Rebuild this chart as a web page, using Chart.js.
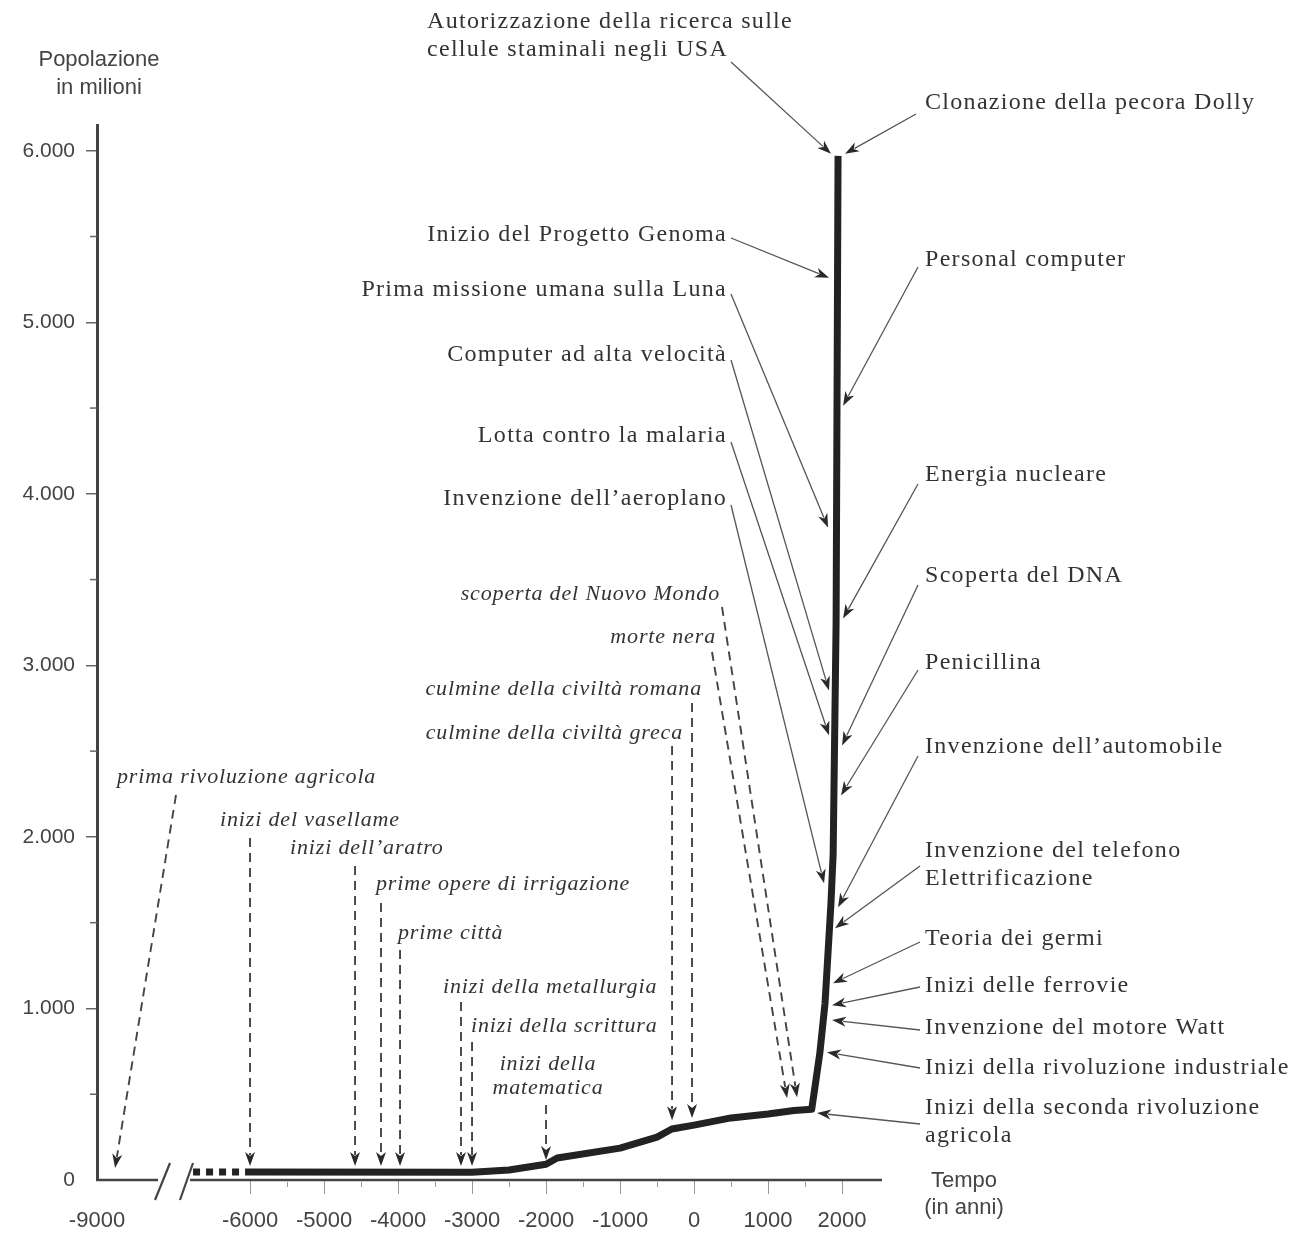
<!DOCTYPE html>
<html><head><meta charset="utf-8">
<script src="https://cdn.jsdelivr.net/npm/chart.js@4"></script>
<style>html,body{margin:0;padding:0;background:#fff}#wrap{width:1293px;height:1236px}</style>
</head><body><div id="wrap"><canvas id="c" width="1293" height="1236"></canvas></div>
<script>
// ---------- DATA ----------
const xTickYears = [-9000, -6000, -5000, -4000, -3000, -2000, -1000, 0, 1000, 2000];
const yTickValues = [0, 1000, 2000, 3000, 4000, 5000, 6000];
const curveYears = [-6000, -3000, -2500, -2000, -1850, -1000, -500, -300, 0, 500, 1000, 1350, 1590, 1640, 1700, 1770, 1810, 1850, 1880, 1920, 1946];
const curvePop   = [47, 45, 58, 92, 128, 186, 250, 297, 320, 362, 385, 405, 412, 560, 740, 1030, 1320, 1610, 1900, 3260, 5970];
const dottedYears = [-6770, -6000];
const dottedPop   = [47, 47];

const eventLabels = [
  "Autorizzazione della ricerca sulle\ncellule staminali negli USA",
  "Clonazione della pecora Dolly",
  "Inizio del Progetto Genoma",
  "Personal computer",
  "Prima missione umana sulla Luna",
  "Computer ad alta velocità",
  "Lotta contro la malaria",
  "Energia nucleare",
  "Invenzione dell’aeroplano",
  "Scoperta del DNA",
  "Penicillina",
  "Invenzione dell’automobile",
  "Invenzione del telefono\nElettrificazione",
  "Teoria dei germi",
  "Inizi delle ferrovie",
  "Invenzione del motore Watt",
  "Inizi della rivoluzione industriale",
  "Inizi della seconda rivoluzione\nagricola",
  "scoperta del Nuovo Mondo",
  "morte nera",
  "culmine della civiltà romana",
  "culmine della civiltà greca",
  "prima rivoluzione agricola",
  "inizi del vasellame",
  "inizi dell’aratro",
  "prime opere di irrigazione",
  "prime città",
  "inizi della metallurgia",
  "inizi della scrittura",
  "inizi della\nmatematica"
];
// point on the chart (year, population) where each arrow ends
const eventAnchorYear = [1851, 2041, 1824, 2014, 1811, 1824, 1824, 2014, 1757, 2000, 1986, 1946, 1905, 1878, 1865, 1865, 1797, 1662,
                         1392, 1257, -27, -297, -8543, -6000, -4581, -4230, -3973, -3149, -3000, -2000];
const eventAnchorPop  = [5982, 5982, 5259, 4514, 3803, 2854, 2592, 3273, 1730, 2533, 2242, 1590, 1468, 1147, 1019, 932, 745, 390,
                         483, 478, 361, 349, 70, 82, 82, 82, 82, 82, 82, 116];

// ---------- LAYOUT (pixels / styles) ----------
const labelLayout = [
  {x:427, y:22, a:'left', sx:731, sy:62},
  {x:925, y:103, a:'left', sx:916, sy:114},
  {x:727, y:235, a:'right', sx:731, sy:238},
  {x:925, y:260, a:'left', sx:918, sy:267},
  {x:727, y:290, a:'right', sx:731, sy:294},
  {x:727, y:355, a:'right', sx:731, sy:360},
  {x:727, y:436, a:'right', sx:731, sy:442},
  {x:925, y:475, a:'left', sx:918, sy:484},
  {x:727, y:499, a:'right', sx:731, sy:505},
  {x:925, y:576, a:'left', sx:918, sy:585},
  {x:925, y:663, a:'left', sx:918, sy:670},
  {x:925, y:747, a:'left', sx:918, sy:756},
  {x:925, y:851, a:'left', sx:920, sy:866},
  {x:925, y:939, a:'left', sx:920, sy:942},
  {x:925, y:986, a:'left', sx:920, sy:987},
  {x:925, y:1028, a:'left', sx:920, sy:1030},
  {x:925, y:1068, a:'left', sx:920, sy:1068},
  {x:925, y:1108, a:'left', sx:920, sy:1124},
  {x:720, y:594, a:'right', it:true, sx:722, sy:607},
  {x:716, y:637, a:'right', it:true, sx:712, sy:652},
  {x:702, y:689, a:'right', it:true, sx:693, sy:703, v:true},
  {x:683, y:733, a:'right', it:true, sx:672, sy:746, v:true},
  {x:117, y:777, a:'left', it:true, sx:176, sy:795},
  {x:220, y:820, a:'left', it:true, sx:250, sy:838, v:true},
  {x:290, y:848, a:'left', it:true, sx:355, sy:866, v:true},
  {x:376, y:884, a:'left', it:true, sx:381, sy:903, v:true},
  {x:398, y:933, a:'left', it:true, sx:400, sy:950, v:true},
  {x:443, y:987, a:'left', it:true, sx:461, sy:1002, v:true},
  {x:471, y:1026, a:'left', it:true, sx:472, sy:1042, v:true},
  {x:548, y:1064, a:'center', it:true, sx:546, sy:1105, v:true}
];

const BREAK_AT = -7000, BREAK_K = 0.534;
function toAxis(year){ return year >= BREAK_AT ? year : BREAK_AT + (year - BREAK_AT) * BREAK_K; }
function fmtThousands(v){ return String(v).replace(/\B(?=(\d{3})+(?!\d))/g, '.'); }

const SANS = '"Liberation Sans", Arial, sans-serif';
const SERIF = '"Liberation Serif", "Times New Roman", serif';

function drawArrow(ctx, x1, y1, x2, y2, dashed){
  const ang = Math.atan2(y2 - y1, x2 - x1);
  const L = 14, W = 5;
  const c = Math.cos(ang), s = Math.sin(ang);
  const bx = x2 - L * c, by = y2 - L * s;
  ctx.save();
  ctx.strokeStyle = dashed ? '#444' : '#555';
  ctx.lineWidth = dashed ? 1.9 : 1.3;
  ctx.setLineDash(dashed ? [9, 6] : []);
  ctx.beginPath(); ctx.moveTo(x1, y1); ctx.lineTo(bx + 3*c, by + 3*s); ctx.stroke();
  ctx.setLineDash([]);
  ctx.fillStyle = '#2a2a2a';
  ctx.beginPath();
  ctx.moveTo(x2, y2);
  ctx.lineTo(bx + W * s, by - W * c);
  ctx.lineTo(bx + 4*c, by + 4*s);
  ctx.lineTo(bx - W * s, by + W * c);
  ctx.closePath(); ctx.fill();
  ctx.restore();
}

const decorPlugin = {
  id: 'decor',
  afterDraw(chart){
    const ctx = chart.ctx, xs = chart.scales.x, ys = chart.scales.y, area = chart.chartArea;
    ctx.save();
    // x axis line with break
    const y0 = area.bottom;
    ctx.strokeStyle = '#444'; ctx.lineWidth = 2.5;
    ctx.beginPath(); ctx.moveTo(area.left - 1, y0); ctx.lineTo(158, y0); ctx.stroke();
    ctx.beginPath(); ctx.moveTo(190, y0); ctx.lineTo(area.right, y0); ctx.stroke();
    ctx.lineWidth = 2.2;
    ctx.beginPath(); ctx.moveTo(155, y0 + 20); ctx.lineTo(170, y0 - 17); ctx.stroke();
    ctx.beginPath(); ctx.moveTo(180, y0 + 20); ctx.lineTo(193, y0 - 17); ctx.stroke();
    // minor ticks
    ctx.strokeStyle = '#999'; ctx.lineWidth = 1;
    for (let yr = -5500; yr <= 1500; yr += 1000){
      const px = Math.round(xs.getPixelForValue(toAxis(yr))) + 0.5;
      ctx.beginPath(); ctx.moveTo(px, y0 + 2); ctx.lineTo(px, y0 + 7); ctx.stroke();
    }
    ctx.strokeStyle = '#666'; ctx.lineWidth = 1.5;
    for (let v = 500; v <= 5500; v += 1000){
      const py = ys.getPixelForValue(v);
      ctx.beginPath(); ctx.moveTo(area.left - 7, py); ctx.lineTo(area.left, py); ctx.stroke();
    }
    // axis titles
    ctx.fillStyle = '#444'; ctx.font = '22px ' + SANS; ctx.textAlign = 'center'; ctx.textBaseline = 'middle';
    ctx.fillText('Popolazione', 99, 60);
    ctx.fillText('in milioni', 99, 88);
    ctx.fillText('Tempo', 964, 1181);
    ctx.fillText('(in anni)', 964, 1208);
    // annotations
    eventLabels.forEach((lab, i) => {
      const L = labelLayout[i];
      const tx = xs.getPixelForValue(toAxis(eventAnchorYear[i]));
      const ty = ys.getPixelForValue(eventAnchorPop[i]);
      const sx = L.v ? tx : L.sx;
      drawArrow(ctx, sx, L.sy, tx, ty, !!L.it);
      ctx.fillStyle = '#333';
      ctx.font = (L.it ? 'italic 22px ' : '24px ') + SERIF;
      ctx.letterSpacing = L.it ? '0.85px' : '1.3px';
      ctx.textAlign = L.a; ctx.textBaseline = 'middle';
      lab.split('\n').forEach((line, k) => ctx.fillText(line, L.x, L.y + k * (L.it ? 24 : 28)));
      ctx.letterSpacing = '0px';
    });
    ctx.restore();
  }
};

new Chart(document.getElementById('c'), {
  type: 'line',
  data: {
    datasets: [
      { data: curveYears.map((y, i) => ({x: toAxis(y), y: curvePop[i]})),
        borderColor: '#222', borderWidth: 7, pointRadius: 0, tension: 0,
        borderJoinStyle: 'round', borderCapStyle: 'butt', fill: false },
      { data: dottedYears.map((y, i) => ({x: toAxis(y), y: dottedPop[i]})),
        borderColor: '#222', borderWidth: 7, pointRadius: 0, borderDash: [7, 6], fill: false }
    ]
  },
  options: {
    responsive: false, animation: false, devicePixelRatio: 1,
    layout: { padding: { left: 0, top: 125, right: 1293 - 882, bottom: 0 } },
    plugins: { legend: { display: false }, tooltip: { enabled: false } },
    scales: {
      x: {
        type: 'linear', min: toAxis(-9000), max: 2540,
        afterFit(s){ s.height = 1236 - 1180; },
        afterBuildTicks(s){ s.ticks = xTickYears.map(y => ({value: toAxis(y)})); },
        border: { display: false },
        grid: { drawOnChartArea: false, drawTicks: true, tickLength: 14,
                color: c => c.index === 0 ? 'rgba(0,0,0,0)' : '#999', lineWidth: 1 },
        ticks: { padding: 14, color: '#444', font: { family: SANS, size: 22 }, maxRotation: 0, autoSkip: false,
                 callback: (v, i) => String(xTickYears[i]) }
      },
      y: {
        type: 'linear', min: 0, max: 6150,
        afterFit(s){ s.width = 97; },
        afterBuildTicks(s){ s.ticks = yTickValues.map(v => ({value: v})); },
        border: { display: true, color: '#444', width: 3 },
        grid: { drawOnChartArea: false, drawTicks: true, tickLength: 11,
                color: c => (c.tick && c.tick.value === 0) ? 'rgba(0,0,0,0)' : '#666', lineWidth: 1.5 },
        ticks: { padding: 11, color: '#444', font: { family: SANS, size: 21 }, autoSkip: false,
                 callback: v => fmtThousands(v) }
      }
    }
  },
  plugins: [decorPlugin]
});
</script></body></html>
